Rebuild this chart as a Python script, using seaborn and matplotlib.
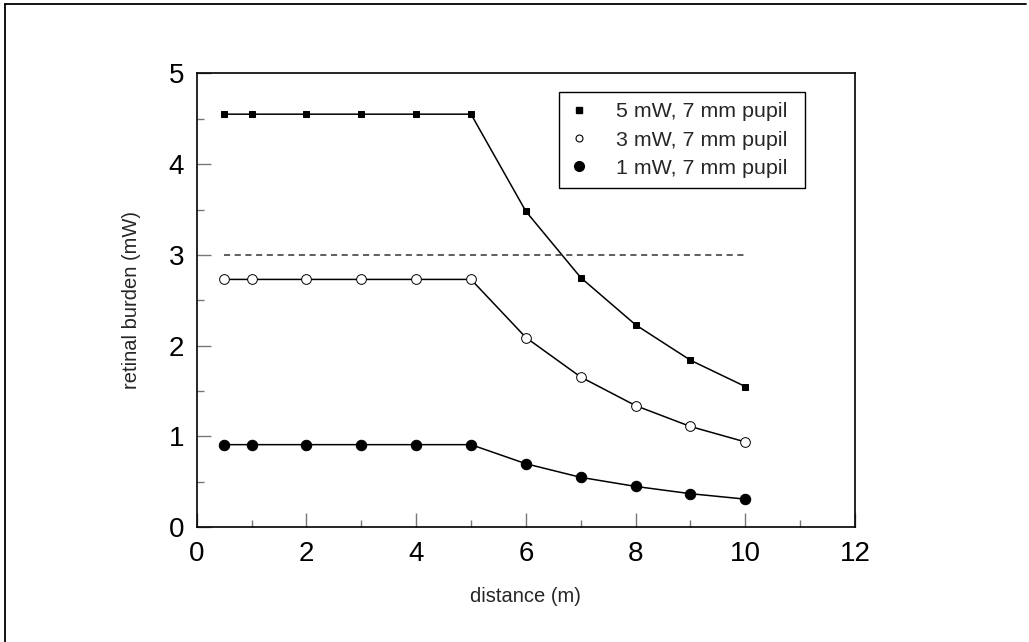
import matplotlib
matplotlib.use("Agg")
import matplotlib.pyplot as plt
from matplotlib.lines import Line2D
from matplotlib.ticker import MultipleLocator
import numpy as np
import pandas as pd
import seaborn as sns

# distances (m) and retinal burden (mW) for each source power
distance = [0.5, 1, 2, 3, 4, 5, 6, 7, 8, 9, 10]
burden_5mw = [4.55, 4.55, 4.55, 4.55, 4.55, 4.55, 3.48, 2.75, 2.23, 1.84, 1.55]
burden_3mw = [2.73, 2.73, 2.73, 2.73, 2.73, 2.73, 2.09, 1.655, 1.34, 1.11, 0.94]
burden_1mw = [0.91, 0.91, 0.91, 0.91, 0.91, 0.91, 0.70, 0.55, 0.45, 0.37, 0.31]
labels = ["5 mW, 7 mm pupil", "3 mW, 7 mm pupil", "1 mW, 7 mm pupil"]
limit_x = [0.5, 10]
limit_y = [3, 3]

sns.set_theme(style="white")
plt.rcParams["font.family"] = ["Liberation Sans", "DejaVu Sans"]

df = pd.DataFrame({
    "distance": distance * 3,
    "burden": burden_5mw + burden_3mw + burden_1mw,
    "series": [labels[0]] * len(distance) + [labels[1]] * len(distance) + [labels[2]] * len(distance),
})

fig = plt.figure(figsize=(10.29, 6.42), dpi=100)
ax = fig.add_axes([0.1912, 0.1787, 0.8309 - 0.1912, 0.8858 - 0.1787])

styles = {
    labels[0]: dict(marker="s", markersize=4.5, markerfacecolor="black", markeredgecolor="black"),
    labels[1]: dict(marker="o", markersize=7, markerfacecolor="white", markeredgecolor="black", markeredgewidth=0.7),
    labels[2]: dict(marker="o", markersize=7.5, markerfacecolor="black", markeredgecolor="black"),
}
for name in labels:
    sub = df[df["series"] == name]
    sns.lineplot(data=sub, x="distance", y="burden", ax=ax, color="black",
                 linewidth=1.1, legend=False, **styles[name])

ax.plot(limit_x, limit_y, color="#333333", linestyle=(0, (4, 3)), linewidth=1.1)

ax.set_xlim(0, 12)
ax.set_ylim(0, 5)
ax.xaxis.set_major_locator(MultipleLocator(2))
ax.xaxis.set_minor_locator(MultipleLocator(1))
ax.yaxis.set_major_locator(MultipleLocator(1))
ax.yaxis.set_minor_locator(MultipleLocator(0.5))
ax.tick_params(axis="both", which="major", direction="in", length=10, width=1,
               color="#777777", labelsize=20, labelcolor="black")
ax.tick_params(axis="x", which="major", pad=10)
ax.tick_params(axis="y", which="major", pad=9)
ax.tick_params(axis="both", which="minor", direction="in", length=5, width=1, color="#777777")
ax.tick_params(bottom=True, left=True, top=False, right=False, which="both")
for side in ["left", "bottom", "top", "right"]:
    ax.spines[side].set_color("black")
    ax.spines[side].set_linewidth(1.2)

ax.set_xlabel("distance (m)", fontsize=14.5, labelpad=14)
ax.set_ylabel("retinal burden (mW)", fontsize=14.5, labelpad=20)

handles = [
    Line2D([], [], linestyle="none", marker="s", markersize=4, markerfacecolor="black", markeredgecolor="black"),
    Line2D([], [], linestyle="none", marker="o", markersize=5, markerfacecolor="white", markeredgecolor="black", markeredgewidth=0.8),
    Line2D([], [], linestyle="none", marker="o", markersize=7, markerfacecolor="black", markeredgecolor="black"),
]
leg = ax.legend(handles, labels, loc="upper left", bbox_to_anchor=(0.5505, 0.9595, 0.3737, 0.0),
                mode="expand", fontsize=15.4, frameon=True, fancybox=False, framealpha=1,
                edgecolor="black", borderpad=0.5, handletextpad=1.25, labelspacing=0.43,
                handlelength=0.9, borderaxespad=0)
leg.get_frame().set_linewidth(1.0)

# page frame along the left and top edges
fig.add_artist(Line2D([0.0045, 0.0045], [0, 0.9935], transform=fig.transFigure, color="black", linewidth=1.3))
fig.add_artist(Line2D([0.0045, 0.9975], [0.9935, 0.9935], transform=fig.transFigure, color="black", linewidth=1.3))

fig.savefig("out.png", dpi=100)
